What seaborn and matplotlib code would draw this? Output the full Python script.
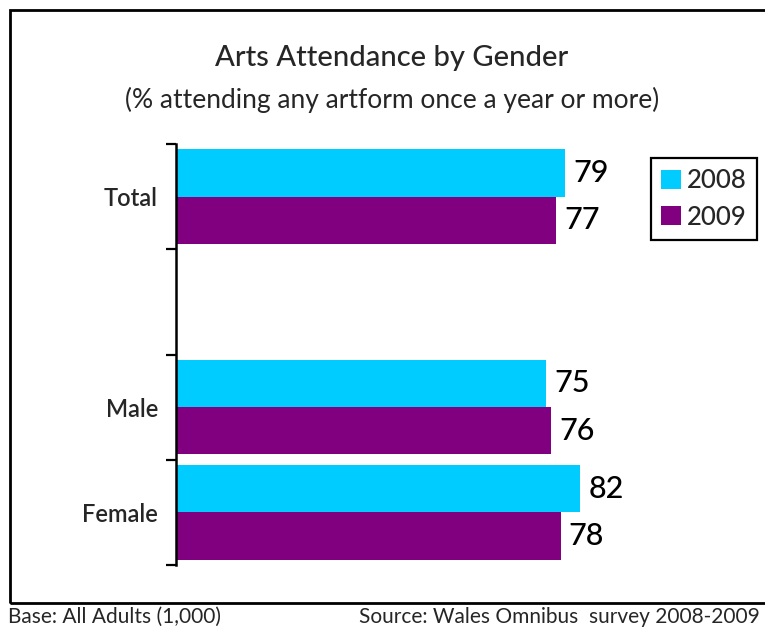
import matplotlib
matplotlib.use("Agg")
import matplotlib.pyplot as plt
import seaborn as sns
import pandas as pd
from matplotlib.patches import Rectangle

# Chart data
categories = ["Total", "", "Male", "Female"]
groups = ["Total", "Male", "Female"]
years = ["2008", "2009"]
values_2008 = [79, 75, 82]
values_2009 = [77, 76, 78]
colors = ["#00CCFF", "#800080"]

df = pd.DataFrame({
    "group": groups * 2,
    "year": [years[0]] * len(groups) + [years[1]] * len(groups),
    "pct": values_2008 + values_2009,
})

sns.set_theme(style="white")
plt.rcParams["font.family"] = ["Lato", "DejaVu Sans"]

W, H = 765, 630
fig = plt.figure(figsize=(W / 100, H / 100), dpi=100)
ax = fig.add_axes([176 / W, 1 - 565 / H, (669 - 176) / W, (565 - 144) / H])

sns.barplot(
    data=df, y="group", x="pct", hue="year", order=categories,
    hue_order=years, palette=colors, orient="h", width=0.9,
    saturation=1, ax=ax, legend=True, errorbar=None, linewidth=0,
)

ax.set_xlim(0, 100)
ax.set_ylim(3.5, -0.5)
ax.set_xlabel("")
ax.set_ylabel("")
ax.set_xticks([])

# Tick marks sit on category boundaries; labels sit at category centres
ax.set_yticks([-0.5, 0.5, 1.5, 2.5, 3.5])
ax.set_yticklabels([])
ax.tick_params(axis="y", which="major", direction="out", length=7, width=1.6,
               color="black", left=True)
ax.set_yticks([0, 2, 3], minor=True)
ax.set_yticklabels(["Total", "Male", "Female"], minor=True, fontsize=17,
                   fontweight="semibold")
ax.tick_params(axis="y", which="minor", length=0, pad=13)

for side in ["top", "right", "bottom"]:
    ax.spines[side].set_visible(False)
ax.spines["left"].set_color("black")
ax.spines["left"].set_linewidth(1.8)

for cont in ax.containers:
    ax.bar_label(cont, fmt="%g", padding=6, fontsize=22, color="black",
                 fontweight="medium")

leg = ax.legend(
    loc="upper left", bbox_to_anchor=((651 - 176) / (669 - 176), (565 - 158) / (565 - 144)),
    frameon=True, fancybox=False, edgecolor="black", framealpha=1,
    fontsize=18.5, handlelength=0.75, handleheight=0.75, handletextpad=0.25,
    borderpad=0.4, labelspacing=0.45, borderaxespad=0,
    prop={"weight": "medium", "size": 18.5},
)
leg.get_frame().set_linewidth(1.6)
for h in leg.legend_handles:
    h.set_edgecolor("none")

fig.text(392 / W, 1 - 58 / H, "Arts Attendance by Gender", ha="center",
         va="center", fontsize=21, fontweight="medium")
fig.text(392 / W, 1 - 100 / H, "(% attending any artform once a year or more)",
         ha="center", va="center", fontsize=19)

fig.text(8 / W, 1 - 617 / H, "Base: All Adults (1,000)", ha="left",
         va="center", fontsize=15)
fig.text(760 / W, 1 - 617 / H, "Source: Wales Omnibus  survey 2008-2009",
         ha="right", va="center", fontsize=15)

# Outer frame around the chart area
fig.patches.append(Rectangle((10 / W, 1 - 603 / H), 770 / W, (603 - 10) / H,
                             transform=fig.transFigure, fill=False,
                             edgecolor="black", linewidth=2))

fig.savefig("out.png", dpi=100)
